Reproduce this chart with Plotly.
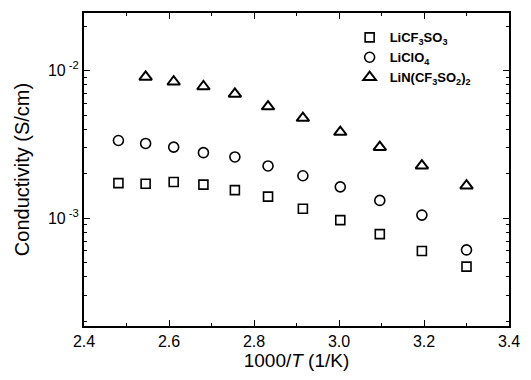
import plotly.graph_objects as go

# 1000/T values (1/K)
x_all = [2.481, 2.545, 2.611, 2.681, 2.755, 2.833, 2.915, 3.003, 3.096, 3.195, 3.300]
x_tri = [2.545, 2.611, 2.681, 2.755, 2.833, 2.915, 3.003, 3.096, 3.195, 3.300]

# Conductivity (S/cm)
licf3so3 = [1.73e-3, 1.71e-3, 1.76e-3, 1.69e-3, 1.55e-3, 1.40e-3, 1.16e-3, 9.7e-4, 7.8e-4, 6.0e-4, 4.7e-4]
liclo4 = [3.36e-3, 3.21e-3, 3.03e-3, 2.78e-3, 2.60e-3, 2.26e-3, 1.94e-3, 1.63e-3, 1.32e-3, 1.05e-3, 6.1e-4]
litfsi = [9.05e-3, 8.4e-3, 7.8e-3, 6.95e-3, 5.7e-3, 4.77e-3, 3.83e-3, 3.03e-3, 2.27e-3, 1.66e-3]

names = ["LiCF<sub>3</sub>SO<sub>3</sub>", "LiClO<sub>4</sub>",
         "LiN(CF<sub>3</sub>SO<sub>2</sub>)<sub>2</sub>"]

x_ticks = [2.4, 2.6, 2.8, 3.0, 3.2, 3.4]
y_major = [1e-3, 1e-2]
y_major_text = ["10<sup> -3</sup>", "10<sup> -2</sup>"]
y_minor = [2e-4, 3e-4, 4e-4, 5e-4, 6e-4, 7e-4, 8e-4, 9e-4,
           2e-3, 3e-3, 4e-3, 5e-3, 6e-3, 7e-3, 8e-3, 9e-3, 2e-2]

fig = go.Figure()
fig.add_trace(go.Scatter(x=x_all, y=licf3so3, mode="markers", name=names[0],
                         marker=dict(symbol="square-open", size=9, color="black",
                                     line=dict(width=1.6))))
fig.add_trace(go.Scatter(x=x_all, y=liclo4, mode="markers", name=names[1],
                         marker=dict(symbol="circle-open", size=10, color="black",
                                     line=dict(width=1.6))))
fig.add_trace(go.Scatter(x=x_tri, y=litfsi, mode="markers", name=names[2],
                         marker=dict(symbol="triangle-up-open", size=11, color="black",
                                     line=dict(width=2))))

axis_font = dict(family="Liberation Sans, Arial, sans-serif", size=16, color="black")

fig.update_layout(
    width=531, height=380,
    margin=dict(l=84, r=11, t=11, b=54),
    paper_bgcolor="white", plot_bgcolor="white",
    font=axis_font,
    showlegend=True,
    legend=dict(x=0.625, y=0.97, xanchor="left", yanchor="top",
                bgcolor="rgba(0,0,0,0)", tracegroupgap=2, itemwidth=30,
                font=dict(family="Liberation Sans, Arial, sans-serif", size=13,
                          color="black", weight="bold")),
    xaxis=dict(range=[2.4, 3.4], tickvals=x_ticks, ticktext=[f"{v:.1f}" for v in x_ticks],
               ticks="inside", ticklen=6, tickwidth=1.3, tickcolor="black",
               minor=dict(dtick=0.1, ticks="inside", ticklen=3, tickcolor="black"),
               showline=True, linecolor="black", linewidth=2, mirror="ticks",
               showgrid=False, zeroline=False,
               title=dict(text="1000/<i>T</i> (1/K)", font=dict(size=19), standoff=2),
               tickfont=dict(size=16)),
    yaxis=dict(type="log", range=[-3.73, -1.61],
               tickvals=y_major, ticktext=y_major_text,
               ticks="inside", ticklen=6, tickwidth=1.3, tickcolor="black",
               minor=dict(tickvals=y_minor, ticks="inside", ticklen=3, tickcolor="black"),
               showline=True, linecolor="black", linewidth=2, mirror="ticks",
               showgrid=False, zeroline=False,
               title=dict(text="Conductivity (S/cm)", font=dict(size=20), standoff=13),
               tickfont=dict(size=16)),
)

fig.write_html("out.html")
